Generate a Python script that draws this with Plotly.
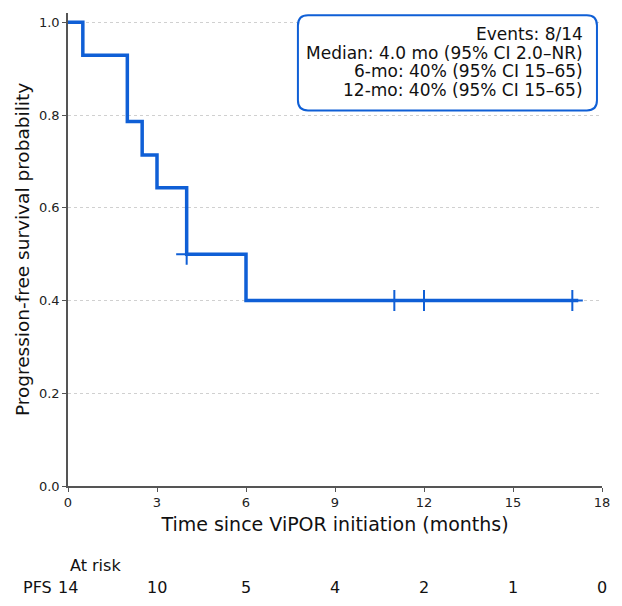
import plotly.graph_objects as go

# Kaplan-Meier PFS estimate (step points)
km_times = [0, 0.5, 2.0, 2.5, 3.0, 4.0, 6.0, 17.2]
km_surv = [1.0, 0.929, 0.786, 0.714, 0.643, 0.5, 0.4, 0.4]

# censored observations
cens_times = [4.0, 11.0, 12.0, 17.0]
cens_surv = [0.5, 0.4, 0.4, 0.4]

# at-risk table
risk_times = [0, 3, 6, 9, 12, 15, 18]
risk_counts = [14, 10, 5, 4, 2, 1, 0]

summary_lines = [
    "Events: 8/14",
    "Median: 4.0 mo (95% CI 2.0–NR)",
    "6-mo: 40% (95% CI 15–65)",
    "12-mo: 40% (95% CI 15–65)",
]

blue = "#0f5fd6"
spine = "#555555"
font = "DejaVu Sans"
txt = "#111111"

fig = go.Figure()
fig.add_trace(go.Scatter(
    x=km_times, y=km_surv, mode="lines", line_shape="hv",
    line=dict(color=blue, width=3.5), showlegend=False, hoverinfo="skip"))
fig.add_trace(go.Scatter(
    x=cens_times, y=cens_surv, mode="markers",
    marker=dict(symbol="cross-thin", size=15, line=dict(color=blue, width=2)),
    showlegend=False, hoverinfo="skip"))

# rounded box behind the summary text
bx0, bx1, by0, by1 = 7.75, 17.83, 0.810, 1.015
rx, ry = 0.34, 0.022
box_path = (
    f"M {bx0 + rx},{by0} L {bx1 - rx},{by0} Q {bx1},{by0} {bx1},{by0 + ry} "
    f"L {bx1},{by1 - ry} Q {bx1},{by1} {bx1 - rx},{by1} "
    f"L {bx0 + rx},{by1} Q {bx0},{by1} {bx0},{by1 - ry} "
    f"L {bx0},{by0 + ry} Q {bx0},{by0} {bx0 + rx},{by0} Z"
)
fig.add_shape(type="path", path=box_path, xref="x", yref="y",
              line=dict(color=blue, width=2), fillcolor="white", layer="above")
# one annotation per line so the line spacing stays tight
line_y = 0.975
for line in summary_lines:
    fig.add_annotation(x=17.43, y=line_y, xref="x", yref="y", xanchor="right", yanchor="middle",
                       text=line, showarrow=False, font=dict(family=font, size=17, color=txt))
    line_y -= 0.0405

fig.add_annotation(x=0, y=-0.169, xref="x", yref="paper", xanchor="left", yanchor="middle",
                   text="At risk", showarrow=False, font=dict(family=font, size=16, color=txt))
fig.add_annotation(x=-0.026, y=-0.2155, xref="paper", yref="paper", xanchor="right", yanchor="middle",
                   text="PFS", showarrow=False, font=dict(family=font, size=16, color=txt))
for t, n in zip(risk_times, risk_counts):
    fig.add_annotation(x=t, y=-0.2155, xref="x", yref="paper", xanchor="center", yanchor="middle",
                       text=str(n), showarrow=False, font=dict(family=font, size=16, color=txt))

fig.update_xaxes(range=[0, 18], tickvals=risk_times, ticks="outside", ticklen=4,
                 tickcolor=spine, showline=True, linecolor=spine, linewidth=1.5,
                 showgrid=False, zeroline=False, automargin=False,
                 title=dict(text="Time since ViPOR initiation (months)", standoff=8,
                            font=dict(family=font, size=19, color=txt)),
                 tickfont=dict(family=font, size=13, color="#222222"))
fig.update_yaxes(range=[0, 1.02], tickvals=[0, 0.2, 0.4, 0.6, 0.8, 1.0], tickformat=".1f",
                 ticks="outside", ticklen=4, tickcolor=spine, showline=True,
                 linecolor=spine, linewidth=1.5, zeroline=False, automargin=False,
                 showgrid=True, gridcolor="#d0d0d0", griddash="dot", gridwidth=1,
                 title=dict(text="Progression-free survival probability", standoff=4,
                            font=dict(family=font, size=18.5, color=txt)),
                 tickfont=dict(family=font, size=13, color="#222222"))

# page body adds an 8px offset, so the figure is a bit smaller than the window
fig.update_layout(width=614, height=598, plot_bgcolor="white", paper_bgcolor="white",
                  margin=dict(l=60, r=20, t=5, b=120), font=dict(family=font))
fig.write_html("out.html")
